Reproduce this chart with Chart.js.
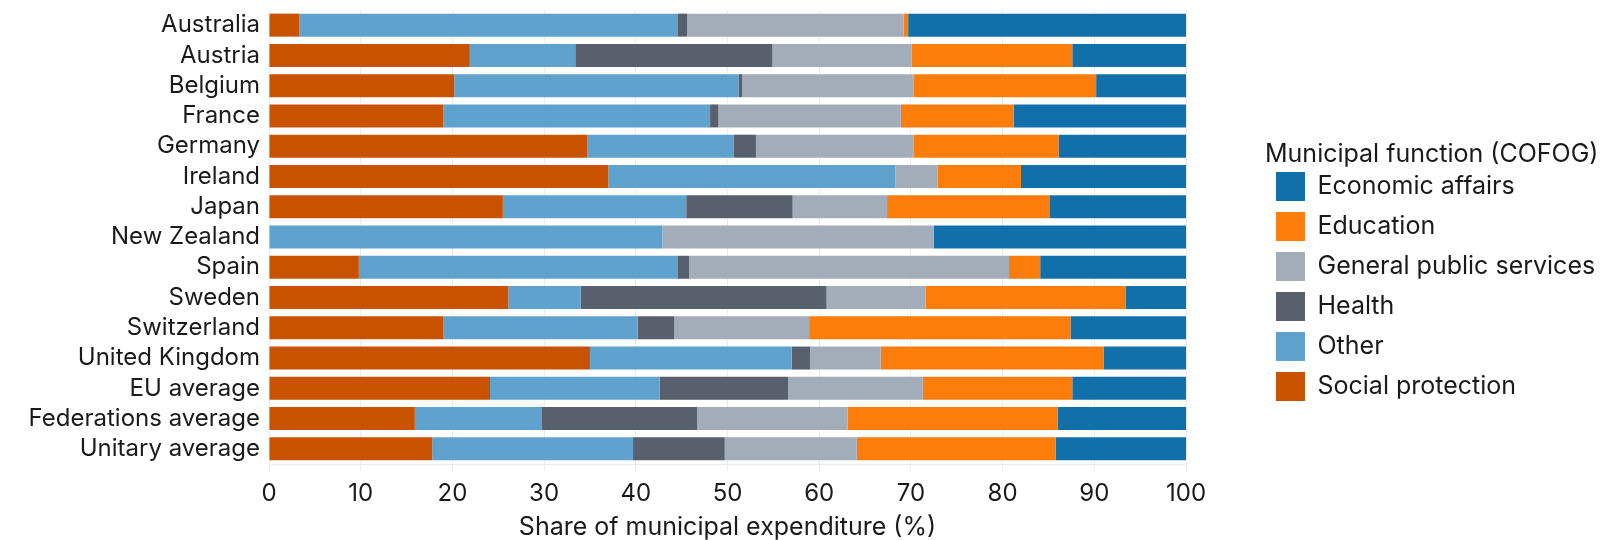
<!DOCTYPE html>
<html>
<head>
<meta charset="utf-8">
<script src="https://cdn.jsdelivr.net/npm/chart.js@4.4.1/dist/chart.umd.min.js"></script>
<style>
  html, body { margin: 0; padding: 0; background: #fff; }
  #wrap { width: 1612px; height: 540px; }
</style>
</head>
<body>
<div id="wrap"><canvas id="chart" width="1612" height="540"></canvas></div>
<script>
// categories, top to bottom
var countries = ['Australia', 'Austria', 'Belgium', 'France', 'Germany', 'Ireland', 'Japan',
    'New Zealand', 'Spain', 'Sweden', 'Switzerland', 'United Kingdom', 'EU average',
    'Federations average', 'Unitary average'];

// share of municipal expenditure (%)
var socialProtection = [3.3, 21.9, 20.2, 19.0, 34.7, 37.0, 25.5, 0, 9.8, 26.1, 19.0, 35.0, 24.1, 15.9, 17.8];
var other            = [41.3, 11.5, 31.0, 29.1, 16.0, 31.3, 20.0, 42.9, 34.8, 7.9, 21.2, 22.0, 18.5, 13.8, 21.9];
var health           = [1.0, 21.5, 0.4, 0.9, 2.4, 0, 11.6, 0, 1.2, 26.8, 4.0, 2.0, 14.0, 17.0, 10.0];
var generalPublic    = [23.6, 15.2, 18.7, 19.9, 17.2, 4.6, 10.3, 29.6, 34.9, 10.8, 14.7, 7.7, 14.7, 16.4, 14.4];
var education        = [0.5, 17.5, 19.9, 12.3, 15.8, 9.1, 17.7, 0, 3.4, 21.8, 28.5, 24.3, 16.3, 22.9, 21.7];
var economicAffairs  = [30.3, 12.4, 9.8, 18.8, 13.9, 18.0, 14.9, 27.5, 15.9, 6.6, 12.6, 9.0, 12.4, 14.0, 14.2];

var xTicks = [0, 10, 20, 30, 40, 50, 60, 70, 80, 90, 100];

var fontFamily = 'Inter, "Open Sans", sans-serif';
var textColor = '#1a1a1a';
var padRight = 22;     // outer padding on the right of the legend
var plotRight = 1186;  // where the 100 gridline sits
var legendLeft = 1265;

function series(label, data, color) {
    return {
        label: label,
        data: data,
        backgroundColor: color,
        borderWidth: 0,
        categoryPercentage: 1,
        barPercentage: 0.76
    };
}

// put the legend to the right of the empty gap
var legendShift = {
    id: 'legendShift',
    afterLayout: function (chart) {
        var lg = chart.legend;
        if (!lg) return;
        var w = lg.width;
        lg.left = legendLeft;
        lg.right = legendLeft + w;
        lg.top += 2;
        lg.bottom += 2;
    }
};

new Chart(document.getElementById('chart'), {
    type: 'bar',
    data: {
        labels: countries,
        datasets: [
            series('Social protection', socialProtection, '#c85200'),
            series('Other', other, '#5fa2ce'),
            series('Health', health, '#57606c'),
            series('General public services', generalPublic, '#a3acb9'),
            series('Education', education, '#fc7d0b'),
            series('Economic affairs', economicAffairs, '#1170aa')
        ]
    },
    plugins: [legendShift],
    options: {
        indexAxis: 'y',
        responsive: false,
        animation: false,
        layout: { padding: { top: 10, right: padRight, left: 0, bottom: 0 } },
        scales: {
            x: {
                stacked: true,
                min: 0,
                max: 100,
                afterBuildTicks: function (axis) {
                    axis.ticks = xTicks.map(v => ({ value: v }));
                },
                afterFit: function (scale) {
                    scale.height = 76;
                    scale.paddingRight = 1612 - plotRight;
                },
                grid: { color: '#ebebeb', lineWidth: 1, tickLength: 7 },
                border: { display: true, color: '#ebebeb' },
                ticks: { color: textColor, font: { family: fontFamily, size: 24 }, padding: 8, maxRotation: 0 },
                title: {
                    display: true,
                    text: 'Share of municipal expenditure (%)',
                    color: textColor,
                    font: { family: fontFamily, size: 25, lineHeight: 1 },
                    padding: { top: 0, bottom: 0 }
                }
            },
            y: {
                stacked: true,
                afterFit: function (scale) {
                    scale.width = 269;
                    scale.paddingTop = 0;
                    scale.paddingBottom = 0;
                },
                grid: { display: false },
                border: { display: false },
                ticks: { color: textColor, font: { family: fontFamily, size: 24 }, padding: 1, autoSkip: false }
            }
        },
        plugins: {
            tooltip: { enabled: false },
            legend: {
                position: 'right',
                align: 'center',
                reverse: true,
                title: {
                    display: true,
                    position: 'start',
                    text: 'Municipal function (COFOG)',
                    color: textColor,
                    font: { family: fontFamily, size: 25, lineHeight: 1 },
                    padding: { top: 0, bottom: -6 }
                },
                labels: {
                    boxWidth: 29,
                    boxHeight: 29,
                    padding: 11,
                    color: textColor,
                    font: { family: fontFamily, size: 25 }
                }
            }
        }
    }
});
</script>
</body>
</html>
